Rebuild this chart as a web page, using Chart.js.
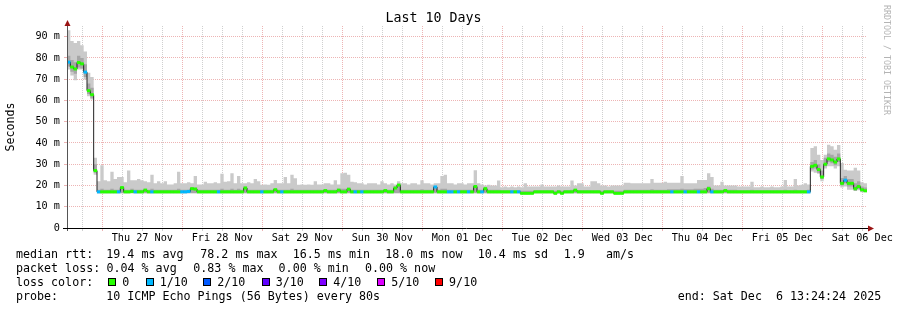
<!DOCTYPE html>
<html>
<head>
<meta charset="utf-8">
<script src="https://cdn.jsdelivr.net/npm/chart.js@4/dist/chart.umd.min.js"></script>
<style>
  body { margin: 0; background: #fff; }
  #wrap { position: relative; width: 897px; height: 310px; overflow: hidden; }
  #chart { position: absolute; left: 0; top: 0; }
  .lg { position: absolute; font-family: 'DejaVu Sans Mono', monospace; font-size: 11.67px;
        line-height: 14px; white-space: pre; color: #000; }
  .box { position: absolute; width: 8px; height: 8px; box-sizing: border-box; border: 1px solid #000; }
</style>
</head>
<body>
<div id="wrap">
  <canvas id="chart" width="897" height="310"></canvas>
</div>
<script>
// median rtt in ms, one value per hour, starting Wed 26 Nov 13:24:24 (240 hours)
var medianMs = [
  78, 75.7, 74.8, 77.8, 77.2, 73.3, 64.6, 62.7, 27, 17, 17, 17, 17, 17, 17, 17, 19, 17, 17, 17.2, 17, 17, 17, 17.8,
  17, 17, 17, 17, 17, 17, 17, 17, 17, 17, 17, 17, 17.2, 18.5, 18.3, 17, 17, 17, 17, 17, 17, 17, 17, 17,
  17, 17, 17, 17, 17, 18.8, 17, 17, 17, 17, 17, 17, 17, 17, 18, 17, 17, 17, 17, 17, 17, 17, 17, 17,
  17, 17, 17, 17, 17, 17.6, 17, 17, 17, 17.8, 17, 17, 18.2, 17, 17, 17, 17, 17, 17, 17, 17, 17, 17, 17.6,
  17, 17, 18.8, 20.2, 17, 17, 17, 17, 17, 17, 17, 17, 17, 17, 19.3, 17, 17, 17, 17, 17, 17, 17, 17, 17,
  17, 17, 19.5, 17, 17, 18.5, 17, 17, 17, 17, 17, 17, 17, 17, 17, 17, 16.3, 16.3, 16.3, 16.3, 17, 17, 17, 17,
  17, 17, 16.3, 17, 16.3, 17, 17, 17, 17.8, 17, 17, 17, 17, 17, 17, 17, 16.3, 17, 17, 17, 16.3, 16.3, 16.3, 17,
  17, 17, 17, 17, 17, 17, 17, 17, 17, 17, 17, 17, 17, 17, 17, 17, 17, 17, 17, 17, 17, 17, 17, 17,
  18.5, 17, 17, 17, 17, 17.6, 17, 17, 17, 17, 17, 17, 17, 17, 17, 17, 17, 17, 17, 17, 17, 17, 17, 17,
  17, 17, 17, 17, 17, 17, 17, 29, 29.5, 27.5, 24, 30, 32.5, 32, 31, 32.5, 21, 22.5, 21, 21, 18.5, 19.5, 18, 17.5
];
// outer smoke (slowest / fastest ping)
var smokeHi = [
  93, 88, 87, 88, 86, 83, 73, 71, 33, 22, 29.5, 22.5, 22, 26.5, 23, 24, 24, 21.5, 27, 22.5, 22.5, 23, 22.5, 22,
  21.5, 25, 21, 22, 21, 22, 20.5, 20.5, 21, 26.5, 21, 21, 21.5, 21, 24.5, 20.5, 20.5, 21.7, 21, 21, 21.5, 21, 25.5, 21.7,
  22, 25.8, 21, 24.5, 21, 21, 21.5, 21, 23, 22, 20.3, 20.5, 20.3, 21, 22.6, 21, 21, 24, 21, 25, 23.4, 20.3, 20.5, 20.3,
  20.5, 20.3, 22, 20.5, 20.5, 21, 21, 20.5, 22.5, 20.5, 25.8, 26, 25, 21.7, 21.5, 21, 21, 20.5, 21, 21, 21, 20.5, 22, 21,
  20.5, 21, 20.5, 22, 21, 21, 20.5, 21, 21, 20.5, 22.5, 21, 21, 20.5, 21, 21, 24.5, 25, 21, 21, 20.5, 21, 21, 20.5,
  21, 21, 27.2, 21, 20.5, 20, 20.3, 20, 20, 22.3, 19.2, 19.5, 19.2, 19.5, 19.2, 19.5, 19.2, 21, 19.5, 19.5, 19.5, 19.5, 20.5, 19.5,
  19.5, 19.5, 19.5, 20, 19.5, 19.5, 19.5, 22.3, 20, 21, 21, 19.5, 19.5, 22, 22, 21, 20, 20, 19.5, 20, 20, 20, 20, 21.3,
  21.3, 21, 21, 21, 21, 21, 21, 23, 21.3, 21.3, 21.3, 21.7, 21.3, 21.3, 21.3, 21.3, 24.5, 21, 21, 21, 21, 22.6, 22.6, 22.6,
  25.8, 24, 20, 20, 21.7, 20, 20, 20, 20, 19.5, 19.5, 19.5, 19.5, 21.7, 19.2, 19.2, 19.5, 19.2, 19.2, 19.5, 19.2, 19.2, 19.5, 22.6,
  19.5, 19.5, 23, 20, 20.3, 21, 20.5, 37.6, 38.4, 34.5, 32, 34.4, 39.2, 38.5, 36.8, 39, 30.6, 27.4, 27, 27, 28.3, 27, 21.5, 21
];
var smokeLo = [
  74.5, 71.7, 69.5, 74.5, 74.5, 69.8, 62, 60.4, 25, 16.2, 16.2, 16.2, 16.2, 16.2, 16.2, 16.2, 16.2, 16.2, 16.2, 16.2, 16.2, 16.2, 16.2, 16.2,
  16.2, 16.2, 16.2, 16.2, 16.2, 16.2, 16.2, 16.2, 16.2, 16.2, 16.2, 16.2, 16.2, 16.2, 16.2, 16.2, 16.2, 16.2, 16.2, 16.2, 16.2, 16.2, 16.2, 16.2,
  16.2, 16.2, 16.2, 16.2, 16.2, 16.2, 16.2, 16.2, 16.2, 16.2, 16.2, 16.2, 16.2, 16.2, 16.2, 16.2, 16.2, 16.2, 16.2, 16.2, 16.2, 16.2, 16.2, 16.2,
  16.2, 16.2, 16.2, 16.2, 16.2, 16.2, 16.2, 16.2, 16.2, 16.2, 16.2, 16.2, 16.2, 16.2, 16.2, 16.2, 16.2, 16.2, 16.2, 16.2, 16.2, 16.2, 16.2, 16.2,
  16.2, 16.2, 16.2, 16.2, 16.2, 16.2, 16.2, 16.2, 16.2, 16.2, 16.2, 16.2, 16.2, 16.2, 16.2, 16.2, 16.2, 16.2, 16.2, 16.2, 16.2, 16.2, 16.2, 16.2,
  16.2, 16.2, 16.2, 16.2, 16.2, 16.2, 16.2, 16.2, 16.2, 16.2, 16.2, 16.2, 16.2, 16.2, 16.2, 16.2, 16.2, 16.2, 16.2, 16.2, 16.2, 16.2, 16.2, 16.2,
  16.2, 16.2, 16.2, 16.2, 16.2, 16.2, 16.2, 16.2, 16.2, 16.2, 16.2, 16.2, 16.2, 16.2, 16.2, 16.2, 16.2, 16.2, 16.2, 16.2, 16.2, 16.2, 16.2, 16.2,
  16.2, 16.2, 16.2, 16.2, 16.2, 16.2, 16.2, 16.2, 16.2, 16.2, 16.2, 16.2, 16.2, 16.2, 16.2, 16.2, 16.2, 16.2, 16.2, 16.2, 16.2, 16.2, 16.2, 16.2,
  16.2, 16.2, 16.2, 16.2, 16.2, 16.2, 16.2, 16.2, 16.2, 16.2, 16.2, 16.2, 16.2, 16.2, 16.2, 16.2, 16.2, 16.2, 16.2, 16.2, 16.2, 16.2, 16.2, 16.2,
  16.2, 16.2, 16.2, 16.2, 16.2, 16.2, 16.2, 26.6, 26, 25.5, 22, 28, 29, 29, 28, 29, 19, 19.5, 18, 18, 17.5, 17.8, 16.8, 16.8
];
// inner smoke (middle pings)
var darkHi = [
  81, 79, 78, 81, 80, 77, 68, 66, 30, 18, 18.5, 18, 18, 18.5, 18, 18, 19.5, 18, 18, 18.5, 18, 18, 18, 18.5,
  18, 18.5, 18, 18, 18, 18, 18, 18, 18, 18.5, 18, 18, 18, 19, 19, 18, 18, 18, 18, 18, 18, 18, 18.5, 18,
  18, 18.5, 18, 18.5, 18, 19.5, 18, 18, 18, 18, 18, 18, 18, 18, 18.5, 18, 18, 18, 18, 18.5, 18, 18, 18, 18,
  18, 18, 18, 18, 18, 18.2, 18, 18, 18, 18.5, 18.5, 18.5, 19, 18, 18, 18, 18, 18, 18, 18, 18, 18, 18, 18.2,
  18, 18, 19.5, 20.5, 18, 18, 18, 18, 18, 18, 18.2, 18, 18, 18, 19.8, 18, 18.5, 18.5, 18, 18, 18, 18, 18, 18,
  18, 18, 20, 18, 18, 19, 18, 18, 18, 18, 17.8, 17.8, 17.8, 17.8, 17.8, 17.8, 17.5, 17.5, 17.5, 17.5, 17.8, 17.8, 17.8, 17.8,
  17.8, 17.8, 17.5, 17.8, 17.5, 17.8, 17.8, 18, 18.3, 17.8, 17.8, 17.8, 17.8, 17.8, 17.8, 17.8, 17.5, 17.8, 17.8, 17.8, 17.5, 17.5, 17.5, 18,
  18, 18, 18, 18, 18, 18, 18, 18.2, 18, 18, 18, 18, 18.2, 18.2, 18.2, 18.2, 18.5, 18.2, 18.2, 18.2, 18.5, 18.5, 18.5, 18.8,
  19.5, 18.5, 18, 18, 18, 18.2, 18, 18, 18, 17.8, 17.8, 17.8, 17.8, 18, 17.8, 17.8, 17.8, 17.8, 17.8, 17.8, 17.8, 17.8, 17.8, 18,
  17.8, 17.8, 18, 17.8, 17.8, 17.8, 18, 31, 32, 30, 27, 33, 35, 34.5, 33.5, 35, 23.5, 24.5, 23, 23, 21, 22, 19.5, 19
];
var darkLo = [
  76, 73.5, 72.5, 75.5, 75, 71, 63, 61, 26, 16.5, 16.5, 16.5, 16.5, 16.5, 16.5, 16.5, 16.5, 16.5, 16.5, 16.5, 16.5, 16.5, 16.5, 16.5,
  16.5, 16.5, 16.5, 16.5, 16.5, 16.5, 16.5, 16.5, 16.5, 16.5, 16.5, 16.5, 16.5, 16.5, 16.5, 16.5, 16.5, 16.5, 16.5, 16.5, 16.5, 16.5, 16.5, 16.5,
  16.5, 16.5, 16.5, 16.5, 16.5, 16.5, 16.5, 16.5, 16.5, 16.5, 16.5, 16.5, 16.5, 16.5, 16.5, 16.5, 16.5, 16.5, 16.5, 16.5, 16.5, 16.5, 16.5, 16.5,
  16.5, 16.5, 16.5, 16.5, 16.5, 16.5, 16.5, 16.5, 16.5, 16.5, 16.5, 16.5, 16.5, 16.5, 16.5, 16.5, 16.5, 16.5, 16.5, 16.5, 16.5, 16.5, 16.5, 16.5,
  16.5, 16.5, 16.5, 16.5, 16.5, 16.5, 16.5, 16.5, 16.5, 16.5, 16.5, 16.5, 16.5, 16.5, 16.5, 16.5, 16.5, 16.5, 16.5, 16.5, 16.5, 16.5, 16.5, 16.5,
  16.5, 16.5, 16.5, 16.5, 16.5, 16.5, 16.5, 16.5, 16.5, 16.5, 16.5, 16.5, 16.5, 16.5, 16.5, 16.5, 16.5, 16.5, 16.5, 16.5, 16.5, 16.5, 16.5, 16.5,
  16.5, 16.5, 16.5, 16.5, 16.5, 16.5, 16.5, 16.5, 16.5, 16.5, 16.5, 16.5, 16.5, 16.5, 16.5, 16.5, 16.5, 16.5, 16.5, 16.5, 16.5, 16.5, 16.5, 16.5,
  16.5, 16.5, 16.5, 16.5, 16.5, 16.5, 16.5, 16.5, 16.5, 16.5, 16.5, 16.5, 16.5, 16.5, 16.5, 16.5, 16.5, 16.5, 16.5, 16.5, 16.5, 16.5, 16.5, 16.5,
  16.5, 16.5, 16.5, 16.5, 16.5, 16.5, 16.5, 16.5, 16.5, 16.5, 16.5, 16.5, 16.5, 16.5, 16.5, 16.5, 16.5, 16.5, 16.5, 16.5, 16.5, 16.5, 16.5, 16.5,
  16.5, 16.5, 16.5, 16.5, 16.5, 16.5, 16.5, 27.5, 28, 26, 23, 29, 31, 30.5, 29.5, 31, 20, 21, 19.5, 19.5, 17.5, 18.5, 17.2, 17
];
// hours where 1/10 pings were lost
var lossHours = [0, 5, 9, 15, 20, 25, 34, 35, 36, 45, 58, 64, 86, 88, 110, 114, 115, 117, 120, 124, 133, 135, 181, 185, 189, 193, 222, 233];

var dayLabels = ['Thu 27 Nov', 'Fri 28 Nov', 'Sat 29 Nov', 'Sun 30 Nov', 'Mon 01 Dec',
                 'Tue 02 Dec', 'Wed 03 Dec', 'Thu 04 Dec', 'Fri 05 Dec', 'Sat 06 Dec'];
var yTicks = [0, 5, 10, 15, 20, 25, 30, 35, 40, 45, 50, 55, 60, 65, 70, 75, 80, 85, 90, 95];
var firstMidnight = 10.5933; // hours from start to Thu 27 Nov 00:00
var spanHours = 240;

var lossColors = { 0: '#26ff00', 1: '#00b8ff' };
var legendItems = [
  ['0', '#26ff00'], ['1/10', '#00b8ff'], ['2/10', '#0059ff'], ['3/10', '#5e00ff'],
  ['4/10', '#7e00ff'], ['5/10', '#dd00ff'], ['9/10', '#ff0000']
];

var FONT = "'DejaVu Sans Mono', monospace";
var RED = 'rgba(225,130,130,0.6)';
var GREY = 'rgba(175,175,175,0.6)';

function stepPoints(arr) {
  var pts = arr.map(function (v, i) { return { x: i, y: v }; });
  pts.push({ x: arr.length, y: arr[arr.length - 1] });
  return pts;
}

var xTicks = [];
for (var t = firstMidnight - 6; t <= spanHours; t += 6) xTicks.push(t);

function isMidnight(v) {
  var d = ((v - firstMidnight) % 24 + 24) % 24;
  return d < 0.01 || d > 23.99;
}

var overlay = {
  id: 'overlay',
  afterDatasetsDraw: function (chart) {
    var ctx = chart.ctx, a = chart.chartArea;
    ctx.save();
    // y axis
    ctx.strokeStyle = '#555';
    ctx.lineWidth = 1;
    ctx.beginPath();
    ctx.moveTo(a.left + 0.5, a.bottom + 3);
    ctx.lineTo(a.left + 0.5, a.top - 3);
    ctx.stroke();
    // x axis
    ctx.strokeStyle = '#000';
    ctx.beginPath();
    ctx.moveTo(a.left - 4, a.bottom + 0.5);
    ctx.lineTo(a.right + 3, a.bottom + 0.5);
    ctx.stroke();
    // arrows
    ctx.fillStyle = '#9a1414';
    ctx.beginPath();
    ctx.moveTo(a.left + 0.5, a.top - 6);
    ctx.lineTo(a.left - 2.5, a.top);
    ctx.lineTo(a.left + 3.5, a.top);
    ctx.closePath();
    ctx.fill();
    ctx.beginPath();
    ctx.moveTo(a.right + 7, a.bottom + 0.5);
    ctx.lineTo(a.right + 1, a.bottom - 2.5);
    ctx.lineTo(a.right + 1, a.bottom + 3.5);
    ctx.closePath();
    ctx.fill();
    // watermark
    ctx.translate(886, 5);
    ctx.rotate(Math.PI / 2);
    ctx.fillStyle = '#b4b4b4';
    ctx.font = '8.3px ' + FONT;
    ctx.textBaseline = 'middle';
    ctx.textAlign = 'left';
    ctx.fillText('RRDTOOL / TOBI OETIKER', 0, 0);
    ctx.restore();
  }
};

new Chart(document.getElementById('chart'), {
  type: 'line',
  data: {
    datasets: [
      {
        label: 'median',
        data: medianMs.map(function (v, i) { return { x: i + 0.5, y: v }; }),
        showLine: false,
        pointStyle: 'line',
        pointRadius: 1.8,
        pointBorderWidth: 3,
        pointBorderColor: function (c) { return lossColors[lossHours.indexOf(c.dataIndex) >= 0 ? 1 : 0]; },
        order: 1
      },
      {
        label: 'median line',
        data: stepPoints(medianMs),
        stepped: true,
        borderColor: '#202020',
        borderWidth: 1,
        pointRadius: 0,
        fill: false,
        order: 2
      },
      {
        data: stepPoints(darkHi), stepped: true, borderWidth: 0, borderColor: 'rgba(0,0,0,0)',
        pointRadius: 0, backgroundColor: '#a6a6a6', fill: 3, order: 3
      },
      {
        data: stepPoints(darkLo), stepped: true, borderWidth: 0, borderColor: 'rgba(0,0,0,0)',
        pointRadius: 0, fill: false, order: 3
      },
      {
        data: stepPoints(smokeHi), stepped: true, borderWidth: 0, borderColor: 'rgba(0,0,0,0)',
        pointRadius: 0, backgroundColor: '#cacaca', fill: 5, order: 4
      },
      {
        data: stepPoints(smokeLo), stepped: true, borderWidth: 0, borderColor: 'rgba(0,0,0,0)',
        pointRadius: 0, fill: false, order: 4
      }
    ]
  },
  options: {
    responsive: false,
    animation: false,
    devicePixelRatio: 1,
    layout: { padding: { left: 0, right: 30, top: 0, bottom: 0 } },
    plugins: {
      legend: { display: false },
      tooltip: { enabled: false },
      title: {
        display: true,
        text: 'Last 10 Days',
        color: '#000',
        font: { family: FONT, size: 13.3, weight: 'normal', lineHeight: '15px' },
        padding: { top: 11, bottom: 0 }
      }
    },
    scales: {
      x: {
        type: 'linear',
        min: 0,
        max: spanHours,
        afterBuildTicks: function (s) { s.ticks = xTicks.map(function (v) { return { value: v }; }); },
        afterFit: function (s) { s.height = 82; },
        ticks: {
          autoSkip: false,
          maxRotation: 0,
          padding: 1,
          color: '#000',
          font: { family: FONT, size: 10.2 },
          callback: function (v) {
            var k = (v - firstMidnight - 12) / 24;
            var r = Math.round(k);
            return Math.abs(k - r) < 0.001 && dayLabels[r] ? dayLabels[r] : '';
          }
        },
        grid: {
          color: function (c) { return isMidnight(c.tick.value) ? RED : GREY; },
          tickColor: function (c) { return isMidnight(c.tick.value) ? RED : GREY; },
          tickLength: 3
        },
        border: { display: false, dash: [1, 1] }
      },
      y: {
        min: 0,
        max: 95,
        afterBuildTicks: function (s) { s.ticks = yTicks.map(function (v) { return { value: v }; }); },
        afterFit: function (s) { s.width = 67; },
        ticks: {
          padding: 4,
          color: '#000',
          font: { family: FONT, size: 10.2 },
          callback: function (v) { return v % 10 !== 0 ? '' : (v === 0 ? '0' : v + ' m'); }
        },
        grid: {
          color: function (c) { return c.tick.value % 10 === 0 ? RED : GREY; },
          tickColor: function (c) { return c.tick.value % 10 === 0 ? RED : GREY; },
          tickLength: 3
        },
        border: { display: false, dash: [1, 1] },
        title: {
          display: true,
          text: 'Seconds',
          color: '#000',
          font: { family: FONT, size: 11.6 },
          padding: { top: 4, bottom: 0 }
        }
      }
    }
  },
  plugins: [overlay]
});

// legend block under the graph
var wrap = document.getElementById('wrap');
function put(x, y, text) {
  var d = document.createElement('div');
  d.className = 'lg';
  d.style.left = x + 'px';
  d.style.top = y + 'px';
  d.textContent = text;
  wrap.appendChild(d);
}
function box(x, y, color) {
  var d = document.createElement('div');
  d.className = 'box';
  d.style.left = x + 'px';
  d.style.top = y + 'px';
  d.style.background = color;
  wrap.appendChild(d);
}
put(16, 247.3, 'median rtt:');
put(106.3, 247.3, '19.4 ms avg');
put(200.3, 247.3, '78.2 ms max');
put(292.8, 247.3, '16.5 ms min');
put(385.3, 247.3, '18.0 ms now');
put(477.8, 247.3, '10.4 ms sd');
put(563.8, 247.3, '1.9');
put(606, 247.3, 'am/s');

put(16, 261.3, 'packet loss:');
put(106.5, 261.3, '0.04 % avg');
put(193.3, 261.3, '0.83 % max');
put(278.6, 261.3, '0.00 % min');
put(365, 261.3, '0.00 % now');

put(16, 275.3, 'loss color:');
var boxX = [108, 145.5, 203, 261.5, 319, 377, 434.8];
legendItems.forEach(function (it, i) {
  box(boxX[i], 278.3, it[1]);
  put(boxX[i] + 14.3, 275.3, it[0]);
});

put(16, 289.3, 'probe:');
put(106.3, 289.3, '10 ICMP Echo Pings (56 Bytes) every 80s');
put(677.7, 289.3, 'end: Sat Dec  6 13:24:24 2025');
</script>
</body>
</html>
